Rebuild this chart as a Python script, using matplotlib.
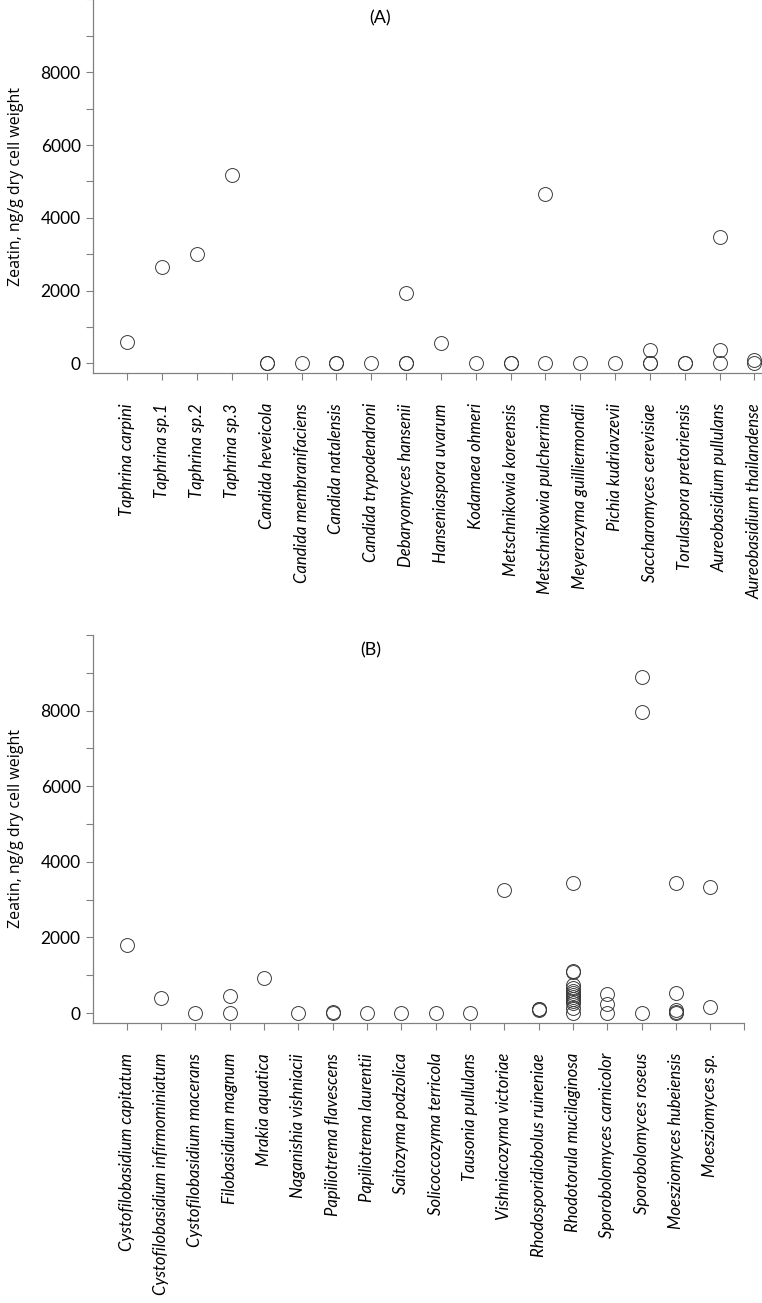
#!/usr/bin/env python3
"""Zeatin content of yeast strains, panels (A) and (B)."""
import matplotlib
matplotlib.use("Agg")
import matplotlib.pyplot as plt
from matplotlib.ticker import MultipleLocator

# Panel A: ascomycete / yeast-like species, zeatin values per strain (ng/g)
species_a = [
    "Taphrina carpini", "Taphrina sp.1", "Taphrina sp.2", "Taphrina sp.3",
    "Candida heveicola", "Candida membranifaciens", "Candida natalensis",
    "Candida trypodendroni", "Debaryomyces hansenii", "Hanseniaspora uvarum",
    "Kodamaea ohmeri", "Metschnikowia koreensis", "Metschnikowia pulcherrima",
    "Meyerozyma guilliermondii", "Pichia kudriavzevii", "Saccharomyces cerevisiae",
    "Torulaspora pretoriensis", "Aureobasidium pullulans", "Aureobasidium thailandense",
]
zeatin_a = [
    [600], [2640], [3020], [5180],
    [0, 15], [0], [0, 15], [0],
    [1925, 0, 15], [555], [0], [0, 15],
    [4650, 0], [0], [0], [370, 0, 15],
    [0, 15], [3460, 370, 0], [90, 20],
]

# Panel B: basidiomycete species
species_b = [
    "Cystofilobasidium capitatum", "Cystofilobasidium infirmominiatum",
    "Cystofilobasidium macerans", "Filobasidium magnum", "Mrakia aquatica",
    "Naganishia vishniacii", "Papiliotrema flavescens", "Papiliotrema laurentii",
    "Saitozyma podzolica", "Solicoccozyma terricola", "Tausonia pullulans",
    "Vishniacozyma victoriae", "Rhodosporidiobolus ruineniae",
    "Rhodotorula mucilaginosa", "Sporobolomyces carnicolor",
    "Sporobolomyces roseus", "Moesziomyces hubeiensis", "Moesziomyces sp.",
]
zeatin_b = [
    [1795], [408], [0], [450, 0], [938],
    [0], [0, 15], [0], [0], [0], [0],
    [3250], [100, 120, 90],
    [3430, 1100, 1080, 733, 650, 580, 520, 470, 424, 380, 330, 256, 125, 0],
    [495, 250, 0], [8900, 7965, 0],
    [3440, 540, 90, 40, 0], [3340, 160],
]

W, H = 762, 1303
GREY = "#808080"
TICK_FONT = "Lato"


def scatter_panel(ax, names, values, xmax):
    for i, vals in enumerate(values):
        ax.plot([i] * len(vals), vals, "o", ms=10, mfc="none",
                mec="#3a3a3a", mew=0.7, clip_on=False)
    ax.set_xlim(-1, xmax)
    ax.set_ylim(-250, 10000)
    extra = xmax >= len(names)
    ax.set_xticks(range(len(names) + (1 if extra else 0)))
    labels = list(names) + ([""] if extra else [])
    ax.set_xticklabels(labels, rotation=90, fontstyle="italic",
                       fontsize=12, family=TICK_FONT)
    ax.set_yticks(range(0, 8001, 2000))
    ax.yaxis.set_minor_locator(MultipleLocator(1000))
    ax.tick_params(axis="y", which="major", labelsize=12.5, length=5,
                   color=GREY, width=0.8)
    ax.tick_params(axis="y", which="minor", length=5, color=GREY, width=0.8)
    ax.tick_params(axis="x", length=5, color=GREY, width=0.8, pad=17)
    for lab in ax.get_yticklabels():
        lab.set_family(TICK_FONT)
    for s in ("top", "right"):
        ax.spines[s].set_visible(False)
    for s in ("left", "bottom"):
        ax.spines[s].set_color(GREY)
        ax.spines[s].set_linewidth(0.9)
    ax.set_ylabel("Zeatin, ng/g dry cell weight", family="Open Sans",
                  fontsize=11.5, labelpad=12)


def main() -> None:
    fig = plt.figure(figsize=(W / 100, H / 100), dpi=100)
    ax_a = fig.add_axes([92.5 / W, 1 - 372.5 / H, 1 - 92.5 / W, 373 / H])
    ax_b = fig.add_axes([92.5 / W, 1 - 1022.5 / H, (744.5 - 92.5) / W, 387.5 / H])

    scatter_panel(ax_a, species_a, zeatin_a, 18.22)
    scatter_panel(ax_b, species_b, zeatin_b, 18)

    fig.text(380 / W, 1 - 18 / H, "(A)", ha="center", va="center",
             family=TICK_FONT, fontsize=13)
    fig.text(371 / W, 1 - 650 / H, "(B)", ha="center", va="center",
             family=TICK_FONT, fontsize=13)

    fig.savefig("out.png", dpi=100)


if __name__ == "__main__":
    main()
